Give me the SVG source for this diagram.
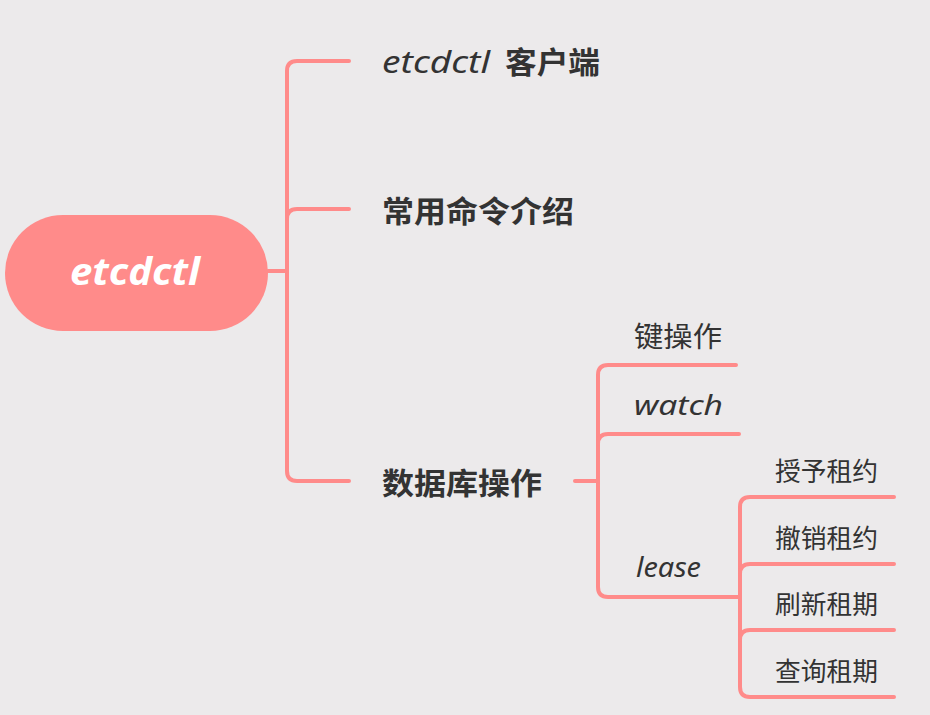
<svg xmlns="http://www.w3.org/2000/svg" width="930" height="715" viewBox="0 0 930 715">
  <style>
    .link { fill: none; stroke: #FF8B8A; stroke-width: 4; stroke-linecap: round; stroke-linejoin: round; }
    .cjk { font-family: "Noto Sans CJK SC", "Noto Sans", sans-serif; fill: #333333; }
    .bold { font-weight: 700; }
    .hand { font-family: "Noto Sans", "DejaVu Sans", sans-serif; font-style: italic; fill: #333333; }
  </style>
  <rect x="0" y="0" width="930" height="715" fill="#ECEAEB"/>

  <!-- connectors -->
  <g id="connectors">
    <path class="link" d="M268,271 L287,271"/>
    <path class="link" d="M349,61 L297,61 Q287,61 287,71 L287,471 Q287,481 297,481 L349,481"/>
    <path class="link" d="M287,219 Q287,209 297,209 L349,209"/>

    <path class="link" d="M575,481 L598,481"/>
    <path class="link" d="M736,365 L608,365 Q598,365 598,375 L598,587 Q598,597 608,597 L740,597"/>
    <path class="link" d="M598,444 Q598,434 608,434 L739,434"/>

    <path class="link" d="M894,497 L750,497 Q740,497 740,507 L740,687 Q740,697 750,697 L894,697"/>
    <path class="link" d="M740,574 Q740,564 750,564 L894,564"/>
    <path class="link" d="M740,640 Q740,630 750,630 L894,630"/>
  </g>

  <!-- root -->
  <g id="root">
    <rect x="5" y="215" width="263" height="116" rx="58" ry="58" fill="#FF8B8A"/>
    <text x="70" y="285" class="hand" font-size="38" font-weight="700" fill="#FFFFFF" style="fill:#FFFFFF" textLength="130" lengthAdjust="spacingAndGlyphs">etcdctl</text>
  </g>

  <!-- first-level topics -->
  <g id="client">
    <text x="382" y="73" class="hand" font-size="30" textLength="108" lengthAdjust="spacingAndGlyphs">etcdctl</text>
    <text x="505" y="73" class="cjk bold" font-size="30" textLength="95" lengthAdjust="spacingAndGlyphs">客户端</text>
  </g>
  <g id="commands">
    <text x="382" y="222" class="cjk bold" font-size="30" textLength="192" lengthAdjust="spacingAndGlyphs">常用命令介绍</text>
  </g>
  <g id="database">
    <text x="382" y="494" class="cjk bold" font-size="30" textLength="160" lengthAdjust="spacingAndGlyphs">数据库操作</text>
  </g>

  <!-- database operations -->
  <g id="key-ops">
    <text x="634" y="347" class="cjk" font-size="28" textLength="88" lengthAdjust="spacingAndGlyphs">键操作</text>
  </g>
  <g id="watch">
    <text x="634" y="415" class="hand" font-size="28" textLength="89" lengthAdjust="spacingAndGlyphs">watch</text>
  </g>
  <g id="lease">
    <text x="636" y="577" class="hand" font-size="28" textLength="65" lengthAdjust="spacingAndGlyphs">lease</text>
  </g>

  <!-- lease operations -->
  <g id="grant">
    <text x="775" y="481" class="cjk" font-size="26" textLength="103" lengthAdjust="spacingAndGlyphs">授予租约</text>
  </g>
  <g id="revoke">
    <text x="775" y="548" class="cjk" font-size="26" textLength="103" lengthAdjust="spacingAndGlyphs">撤销租约</text>
  </g>
  <g id="keepalive">
    <text x="775" y="614" class="cjk" font-size="26" textLength="103" lengthAdjust="spacingAndGlyphs">刷新租期</text>
  </g>
  <g id="timetolive">
    <text x="775" y="681" class="cjk" font-size="26" textLength="103" lengthAdjust="spacingAndGlyphs">查询租期</text>
  </g>
</svg>
